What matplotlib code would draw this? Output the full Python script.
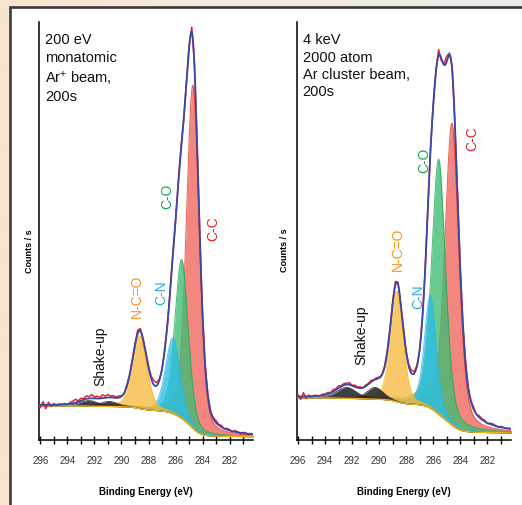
import numpy as np
import matplotlib
import matplotlib.pyplot as plt
from matplotlib.patches import Rectangle
from matplotlib.ticker import MultipleLocator

matplotlib.use('Agg')

plt.rcParams['font.family'] = ['Liberation Sans', 'DejaVu Sans']
plt.rcParams['mathtext.fontset'] = 'custom'
plt.rcParams['mathtext.rm'] = 'Liberation Sans'
plt.rcParams['mathtext.it'] = 'Liberation Sans'

# peak fit parameters: centre (eV), height (counts, arb.),
# FWHM (eV), lorentzian fraction
names = ['C-C', 'C-O', 'C-N', 'N-C=O', 'Shake-up', 'Shake-up']

left_centre = [284.72, 285.55, 286.2, 288.65, 292.4, 290.9]
left_height = [82.0, 38.0, 18.0, 17.4, 1.3, 1.2]
left_fwhm = [1.1, 1.15, 1.25, 1.25, 1.6, 1.5]
left_mix = [0.3, 0.3, 0.3, 0.3, 0.3, 0.3]
left_bg = [0.8, 8.2]   # low BE level, high BE level

right_centre = [284.62, 285.6, 286.22, 288.7, 292.4, 290.3]
right_height = [72.2, 61.0, 27.0, 26.5, 2.6, 2.8]
right_fwhm = [1.2, 1.2, 1.0, 1.1, 1.7, 1.4]
right_mix = [0.4, 0.4, 0.4, 0.3, 0.3, 0.3]
right_bg = [1.7, 10.1]

# residual of the raw counts against the fit, every 0.2 eV from 296.0 to 280.4
left_resid = [-0.6, 0.8, -0.9, 0.6, -0.4, 0.3, -0.2, 0.2, 0.0, 0.2,
              -0.1, 0.3, 0.5, 0.8, 0.2, 0.6, 0.3, 0.7, 0.4, 0.9,
              0.3, 0.6, 0.2, 0.8, 0.4, 0.7, 0.3, 0.5, 0.2, 0.4,
              0.1, -0.2, 0.3, 0.2, 0.4, 0.5, 0.9, 0.6, -0.3, 0.2,
              0.4, 0.6, 1.0, 0.7, 0.3, -0.2, 0.4, -0.3, 0.2, 0.5,
              -0.4, 0.3, 0.6, -0.5, 0.4, 0.8, 1.2, 0.3, -0.4, 0.3,
              -0.2, 0.2, 0.4, -0.2, 0.3, 0.5, 0.2, 0.4, -0.1, 0.3,
              0.2, -0.2, 0.3, 0.1, -0.3, 0.2, 0.1, -0.2, 0.1]
right_resid = [0.4, -0.7, 0.9, -0.5, 0.3, -0.2, 0.2, 0.1, -0.1, 0.3,
               0.2, 0.4, 0.1, 0.5, 0.3, 0.6, 0.2, 0.4, 0.3, 0.5,
               0.1, 0.4, 0.2, 0.3, -0.1, 0.3, 0.2, 0.4, 0.1, 0.3,
               0.2, 0.1, 0.3, 0.4, 0.2, 0.5, 0.8, 0.6, -0.2, 0.3,
               0.2, 0.5, 0.7, 0.4, 0.2, -0.2, 0.3, -0.3, 0.2, 0.4,
               -0.3, 0.5, 1.4, -0.6, 0.3, 1.3, 0.4, 0.6, -0.4, 0.3,
               -0.2, 0.4, 0.6, 0.2, 0.3, 0.5, -0.1, 0.4, 0.2, 0.3,
               -0.2, 0.2, 0.3, 0.1, -0.2, 0.2, 0.1, -0.1, 0.1]

left_title = '200 eV\nmonatomic\nAr$^{+}$ beam,\n200s'
right_title = '4 keV\n2000 atom\nAr cluster beam,\n200s'

# label positions (eV, counts)
left_lab = [(283.24, 50.8), (286.64, 58.6), (287.05, 35.5), (288.83, 34.7), (291.6, 20.3)]
right_lab = [(283.08, 72.4), (286.69, 67.1), (287.13, 34.5), (288.61, 45.8), (291.34, 25.2)]

fill_col = ['#f0665c', '#3fbb72', '#2cbde6', '#f8b93f', '#1e1e1e', '#1e1e1e']
edge_col = ['#e8322a', '#1faa55', '#29b6e6', '#f2c21a', '#222222', '#222222']
lab_col = ['#ed1c24', '#13a84b', '#29abe2', '#f7941d', '#111111']


def glpeak(x, c, h, w, m):
    g = np.exp(-4 * np.log(2) * (x - c) ** 2 / w ** 2)
    l = 1 / (1 + 4 * (x - c) ** 2 / w ** 2)
    return h * ((1 - m) * g + m * l)


def draw(ax, centre, height, fwhm, mix, bglev, resid, title, labs):
    e = np.linspace(280.2, 296.2, 1601)
    comps = [glpeak(e, c, h, w, m) for c, h, w, m in zip(centre, height, fwhm, mix)]
    total = np.sum(comps, axis=0)
    cum = np.cumsum(total)
    bg = bglev[0] + (bglev[1] - bglev[0]) * cum / cum[-1]
    # components sit on the Shirley background
    for k in [0, 1, 2, 3, 4, 5]:
        a = 0.85 if k >= 4 else 0.78
        ax.fill_between(e, bg, bg + comps[k], color=fill_col[k], alpha=a,
                        lw=0, zorder=2 + k)
        ax.plot(e, bg + comps[k], color=edge_col[k], lw=0.7, alpha=0.8, zorder=2 + k)
    ax.plot(e, bg, color='#f0b418', lw=1.0, zorder=9)
    env = bg + total
    grid = np.linspace(296.0, 280.4, 79)
    raw = np.interp(grid, e, env) + np.array(resid)
    ax.plot(grid, raw, color='#e8202a', lw=1.1, zorder=10)
    ax.plot(e, env, color='#3a48a6', lw=1.3, zorder=11)

    ax.set_xlim(296.1, 280.27)
    ax.set_ylim(0, 100)
    ax.spines['top'].set_visible(False)
    ax.spines['right'].set_visible(False)
    ax.spines['left'].set_linewidth(1.1)
    ax.spines['bottom'].set_linewidth(1.1)
    ax.set_yticks([])
    ax.xaxis.set_major_locator(MultipleLocator(2))
    ax.xaxis.set_minor_locator(MultipleLocator(1))
    ax.tick_params(axis='x', which='both', direction='inout', length=6, width=1.0,
                   labelsize=7, labelcolor='#333333', pad=8)
    ax.set_xlabel('Binding Energy (eV)', fontsize=7, fontweight='bold', labelpad=15)
    ax.set_ylabel('Counts / s', fontsize=6.5, fontweight='bold')
    ax.text(0.028, 0.975, title, transform=ax.transAxes, va='top', ha='left',
            fontsize=10.5, linespacing=1.3, color='#111111')
    for (x, y), txt, col in zip(labs, names[:5], lab_col):
        ax.text(x, y, txt, rotation=90, ha='center', va='center', fontsize=10,
                color=col, zorder=12)


fig = plt.figure(figsize=(5.22, 5.06), dpi=100)
bgax = fig.add_axes([0, 0, 1, 1])
grad = np.linspace(0, 1, 256).reshape(1, -1)
bgax.imshow(grad, aspect='auto', extent=[0, 1, 0, 1],
            cmap=matplotlib.colors.LinearSegmentedColormap.from_list(
                'bk', ['#f8e4cc', '#f1ebe3', '#ebeae8']))
bgax.set_xlim(0, 1)
bgax.set_ylim(0, 1)
bgax.axis('off')
bgax.add_patch(Rectangle((10 / 522, -0.05), 1.2, 0.05 + 498 / 506, facecolor='white',
                         edgecolor='#3a3a3a', lw=1.9))

ax1 = fig.add_axes([39 / 522, 65 / 506, 214 / 522, 418 / 506])
ax2 = fig.add_axes([296.7 / 522, 65 / 506, 214 / 522, 418 / 506])
ax1.patch.set_alpha(0)
ax2.patch.set_alpha(0)

draw(ax1, left_centre, left_height, left_fwhm, left_mix, left_bg, left_resid,
     left_title, left_lab)
draw(ax2, right_centre, right_height, right_fwhm, right_mix, right_bg, right_resid,
     right_title, right_lab)
ax1.yaxis.set_label_coords(-0.024, 0.455)
ax2.yaxis.set_label_coords(-0.036, 0.457)

fig.savefig('out.png', dpi=100)
